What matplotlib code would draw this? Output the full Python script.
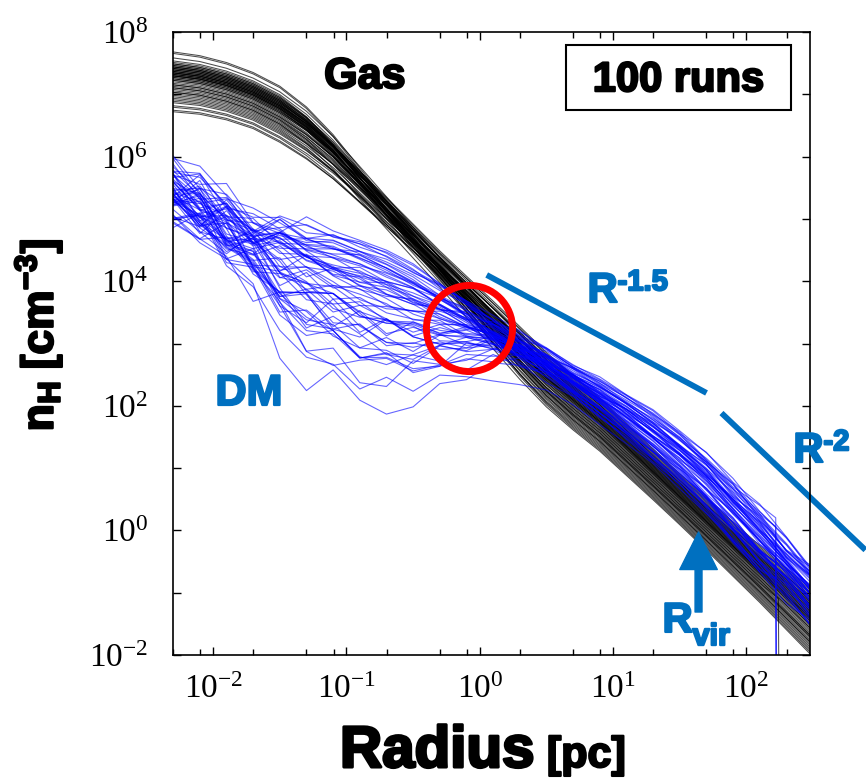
import numpy as np
import matplotlib
matplotlib.use('Agg')
import matplotlib.pyplot as plt
import matplotlib.patheffects as pe
from matplotlib.ticker import FuncFormatter, LogLocator, FixedLocator
from matplotlib.patches import Rectangle

plt.rcParams['font.family'] = ['Liberation Sans', 'DejaVu Sans']
plt.rcParams['mathtext.fontset'] = 'custom'
plt.rcParams['mathtext.rm'] = 'Liberation Serif'
plt.rcParams['mathtext.it'] = 'Liberation Serif:italic'
plt.rcParams['mathtext.bf'] = 'Liberation Sans:bold'

# radius grid, log10(r / pc)
log_r = [-2.3, -2.1, -1.9, -1.7, -1.5, -1.3, -1.1, -0.9, -0.7, -0.5, -0.3, -0.1,
         0.1, 0.3, 0.5, 0.7, 0.9, 1.1, 1.3, 1.5, 1.7, 1.9, 2.1, 2.3, 2.5]

# gas: middle of the band and half width of the band (log10 nH)
gas_mid = [7.20, 7.15, 7.05, 6.90, 6.68, 6.38, 6.00, 5.55, 5.10, 4.65, 4.20, 3.75,
           3.30, 2.85, 2.42, 2.05, 1.70, 1.30, 0.90, 0.50, 0.10, -0.30, -0.70, -1.10, -1.50]
gas_half = [0.48, 0.47, 0.46, 0.45, 0.45, 0.45, 0.45, 0.45, 0.44, 0.42, 0.40, 0.42,
            0.45, 0.47, 0.47, 0.46, 0.45, 0.44, 0.43, 0.43, 0.44, 0.46, 0.48, 0.52, 0.56]
gas_w = [1, 1, 1, 1, 1, 0.95, 0.85, 0.72, 0.6, 0.48, 0.36, 0.25,
         0.16, 0.08, 0.03, 0, 0, 0, 0, 0, 0, 0, 0, 0, 0]

# DM: middle, half width, weights of centre / core / outer offsets, noise levels
dm_mid = [5.35, 5.15, 4.85, 4.55, 4.35, 4.15, 4.00, 3.85, 3.70, 3.55, 3.42, 3.28,
          3.12, 2.92, 2.68, 2.40, 2.12, 1.82, 1.50, 1.15, 0.75, 0.30, -0.15, -0.60, -1.05]
dm_half = [0.40, 0.42, 0.50, 0.60, 0.70, 0.80, 0.85, 0.88, 0.85, 0.80, 0.72, 0.62,
           0.50, 0.42, 0.38, 0.38, 0.40, 0.42, 0.45, 0.48, 0.52, 0.55, 0.55, 0.50, 0.50]
dm_w_edge = [1, 0.8, 0.55, 0.3, 0.1, 0, 0, 0, 0, 0, 0, 0,
             0, 0, 0, 0, 0, 0, 0, 0, 0, 0, 0, 0, 0]
dm_w_core = [0, 0.2, 0.45, 0.7, 0.9, 1, 1, 1, 1, 0.95, 0.85, 0.72,
             0.55, 0.4, 0.28, 0.18, 0.1, 0.04, 0, 0, 0, 0, 0, 0, 0]
dm_noise_all = [0.34, 0.36, 0.34, 0.28, 0.20, 0.13, 0.08, 0.05, 0.03, 0.03, 0.03, 0.03,
                0.03, 0.03, 0.03, 0.03, 0.03, 0.03, 0.04, 0.05, 0.06, 0.08, 0.09, 0.10, 0.10]
dm_noise_low = [0, 0, 0.10, 0.20, 0.30, 0.35, 0.35, 0.35, 0.32, 0.30, 0.25, 0.20,
                0.15, 0.10, 0.05, 0.02, 0, 0, 0, 0, 0, 0, 0, 0, 0]

# per-run position inside the band
gas_in = [0.35, -0.2, 0.5, -0.6, 0.15, 0.4, -0.35, 0.25, 0.05, 0.6, -0.85, 0.3, 0.45, -0.1, 0.2,
          -0.5, 0.55, 0.1, 0.35, -0.95, 0.45, -0.25, 0.2, 0.7, -0.4, 0.3, 0.0, 0.5, -0.7, 0.25,
          0.4, -0.15, 0.95, -0.3, 0.3, -0.55, 0.1, 0.65, -0.05, 0.35, -0.8, 0.2, 0.5, -0.45, 0.15,
          0.8, -0.2, 0.4, -0.65, 0.3, 0.05, -0.35, 0.55, 0.25, 0.45, -0.1, 0.6, 0.2, 1.0, -1.0]
gas_out = [0.3, 0.6, -0.4, 0.1, -0.8, 0.45, 0.2, -0.55, 0.7, -0.1, 0.0, 0.85, -0.3, 0.5, -0.65,
           0.25, -0.2, 0.9, -0.45, 0.15, -0.9, 0.35, 0.65, -0.05, 0.4, -0.7, 0.1, -0.35, 0.55, 0.75,
           -0.15, 0.05, -0.6, 0.3, 0.95, -0.25, 0.5, -0.85, 0.2, -0.5, 0.6, -0.1, 0.0, 0.8, -0.4,
           0.25, -0.75, 0.45, 0.1, -0.3, 0.7, -0.95, 0.35, -0.2, 0.15, 0.55, -0.6, 0.05, -0.45, 0.4]
dm_edge = [0.2, -0.5, 0.9, 0.0, 1.2, -0.3, 0.5, -0.8, 0.3, 0.7, -0.1, 0.4, -0.6, 1.0, 0.1,
           -0.4, 0.6, -0.9, 0.25, 0.8, -0.2, 0.45, 0.05, -0.7, 0.35, 1.4, -0.15, 0.55, -0.5, 0.15,
           0.75, -0.35, 0.0, 0.6, -0.65, 0.3, 1.1, -0.25, 0.5, -0.05, 0.85, -0.45, 0.2, 0.65, -0.75,
           0.1, 0.4, -0.3, 0.95, -0.1, 0.3, -0.55, 0.7, 0.05, -0.2, 0.5, -0.85, 0.25, 0.6, -0.4]
dm_core = [0.8, 0.3, -0.5, 0.6, -1.2, 0.1, -0.45, -0.6, 0.9, 0.2, -0.4, 0.7, -1.5, 0.35, -0.3,
           0.55, -0.8, 0.25, -0.65, -0.1, 0.4, -1.0, 0.15, 0.75, -0.3, 0.5, -0.55, -0.7, 0.85, 0.3,
           -0.5, 0.6, -1.3, 0.2, -0.85, -0.15, 0.7, 0.1, -0.9, 0.55, -1.15, -0.25, 0.95, -0.45, 0.25,
           0.5, -1.1, 0.0, 0.65, -0.75, -0.6, 0.15, 0.8, -0.35, 0.3, -2.0, 0.6, -1.4, -0.05, 0.45]
dm_out = [0.2, -0.5, 0.6, 0.0, -0.3, 0.8, -0.8, 0.35, -0.1, 0.5, -0.6, 0.15, -1.0, 0.7, 0.3,
          -0.25, 0.45, -0.7, 0.1, 0.9, -0.4, 0.25, -0.15, 0.55, 0.05, -0.9, 0.4, 0.65, -0.35, -0.05,
          0.75, -0.55, 0.2, -0.2, 0.5, 0.0, -0.75, 0.3, 0.6, -0.45, 0.1, 0.85, -0.3, 0.35, -0.65,
          0.15, 0.45, -0.1, -0.85, 0.7, 0.25, -0.4, 0.05, 0.55, -0.2, 0.4, -0.6, 0.95, 0.1, -0.3]
jitter = [0.6, -0.9, 0.2, 0.8, -0.4, -0.1, 0.95, -0.7, 0.3, -0.5, 0.7, 0.0, -0.85, 0.45, -0.2,
          0.9, -0.6, 0.1, 0.5, -1.0, 0.35, -0.3, 0.75, -0.45, 0.15, -0.8, 0.65, -0.05, 0.4, -0.65,
          0.85, -0.25, 0.05, -0.95, 0.55, -0.15, 0.25]
dm_drop_runs = [4, 27, 41]   # runs that end with a sharp drop near 170 pc
gas_drop_runs = [12]

blue = '#0070C0'

fig = plt.figure(figsize=(8.66, 7.8), dpi=100)
ax = fig.add_axes([173 / 866, 1 - 655 / 780, (810 - 173) / 866, (655 - 32) / 780])

r = 10 ** np.array(log_r)
w = np.array(gas_w)
for i in range(len(gas_in)):
    y = np.array(gas_mid) + np.array(gas_half) * (gas_in[i] * w + gas_out[i] * (1 - w))
    rr = r
    if i in gas_drop_runs:
        rr = np.append(r[:23], [10 ** 2.24, 10 ** 2.245])
        y = np.append(y[:23], [y[22] - 0.25, -3])
    ax.plot(rr, 10 ** y, color='black', lw=0.75, alpha=0.7)

we = np.array(dm_w_edge)
wc = np.array(dm_w_core)
wo = 1 - we - wc
n = len(jitter)
for i in range(len(dm_core)):
    noise = np.array([jitter[(i * 11 + j * 5) % n] for j in range(len(log_r))])
    low = min(0.6, max(0.0, 0.5 * (0.5 - dm_core[i])))
    y = (np.array(dm_mid)
         + np.array(dm_half) * (dm_edge[i] * we + dm_core[i] * wc + dm_out[i] * wo)
         + (np.array(dm_noise_all) + np.array(dm_noise_low) * low) * noise)
    rr = r
    if i in dm_drop_runs:
        rr = np.append(r[:23], [10 ** 2.22, 10 ** 2.225])
        y = np.append(y[:23], [y[22] - 0.2, -3])
    ax.plot(rr, 10 ** y, color='#0000FF', lw=0.8, alpha=0.6)

ax.set_xscale('log')
ax.set_yscale('log')
ax.set_xlim(5e-3, 300)
ax.set_ylim(1e-2, 1e8)

ax.xaxis.set_major_locator(FixedLocator([1e-2, 1e-1, 1e0, 1e1, 1e2]))
ax.xaxis.set_minor_locator(LogLocator(base=10, subs=(2, 5, 8)))
ax.yaxis.set_major_locator(FixedLocator([10.0 ** k for k in range(-2, 9)]))
ax.yaxis.set_minor_locator(FixedLocator([]))
ax.xaxis.set_major_formatter(FuncFormatter(lambda v, p: r'$10^{%d}$' % round(np.log10(v))))
ax.yaxis.set_major_formatter(FuncFormatter(
    lambda v, p: r'$10^{%d}$' % round(np.log10(v)) if round(np.log10(v)) % 2 == 0 else ''))
ax.tick_params(which='both', direction='in', top=True, right=True, width=1)
ax.tick_params(which='major', length=6)
ax.tick_params(which='minor', length=4)
ax.tick_params(axis='x', labelsize=24, pad=14)
ax.tick_params(axis='y', labelsize=24, pad=18)
for s in ax.spines.values():
    s.set_linewidth(1.2)

heavy_k = [pe.withStroke(linewidth=1.6, foreground='black')]
heavy_b = [pe.withStroke(linewidth=1.6, foreground=blue)]

# annotations
ax.text(10 ** -0.863, 10 ** 7.10, 'Gas', fontsize=31, fontweight='bold', ha='center',
        va='baseline', path_effects=heavy_k)
ax.add_patch(Rectangle((0.617, 0.875), 0.353, 0.104, transform=ax.transAxes,
                       fc='white', ec='black', lw=1.5, zorder=5))
ax.text(0.7936, 0.905, '100 runs', transform=ax.transAxes, fontsize=30, fontweight='bold',
        ha='center', va='baseline', zorder=6, path_effects=heavy_k)
ax.text(10 ** -1.732, 10 ** 2.013, 'DM', fontsize=31, fontweight='bold', color=blue,
        ha='center', va='baseline', path_effects=heavy_b)

ax.plot([10 ** 0.052, 10 ** 1.701], [10 ** 4.10, 10 ** 2.206], color=blue, lw=4.2,
        solid_capstyle='butt', clip_on=False)
ax.plot([10 ** 1.813, 10 ** 2.893], [10 ** 1.884, 10 ** -0.315], color=blue, lw=4.2,
        solid_capstyle='butt', clip_on=False)

t1 = ax.text(10 ** 0.809, 10 ** 3.666, 'R', fontsize=30, fontweight='bold', color=blue,
             ha='left', va='baseline', path_effects=heavy_b)
ax.annotate('-1.5', xy=(1, 1), xycoords=t1, xytext=(0, 2), textcoords='offset points',
            fontsize=21, fontweight='bold', color=blue, ha='left', va='top', path_effects=heavy_b)
t2 = ax.text(10 ** 2.353, 10 ** 1.098, 'R', fontsize=30, fontweight='bold', color=blue,
             ha='left', va='baseline', path_effects=heavy_b)
ax.annotate('-2', xy=(1, 1), xycoords=t2, xytext=(0, 2), textcoords='offset points',
            fontsize=21, fontweight='bold', color=blue, ha='left', va='top', path_effects=heavy_b)

ax.plot([10 ** -0.078], [10 ** 3.244], marker='o', markersize=62, mfc='none', mec='red', mew=5)

ax.annotate('', xy=(10 ** 1.641, 10 ** -0.026), xytext=(10 ** 1.641, 10 ** -1.31),
            arrowprops=dict(width=5, headwidth=27, headlength=27, color=blue, shrink=0))
t3 = ax.text(10 ** 1.371, 10 ** -1.63, 'R', fontsize=30, fontweight='bold', color=blue,
             ha='left', va='baseline', path_effects=heavy_b)
ax.annotate('vir', xy=(1, 0), xycoords=t3, xytext=(0, -8), textcoords='offset points',
            fontsize=22, fontweight='bold', color=blue, ha='left', va='bottom', path_effects=heavy_b)

# axis labels
fig.text(38 / 866, 1 - 335 / 780, r'$\mathbf{n_H\ [cm^{-3}]}$', fontsize=32, rotation=90,
         ha='center', va='center', path_effects=heavy_k)
base_y = 1 - 767 / 780
tx = fig.text(340 / 866, base_y, 'Radius', fontsize=42, fontweight='bold',
              ha='left', va='baseline', path_effects=[pe.withStroke(linewidth=2.2, foreground='black')])
fig.canvas.draw()
bb = tx.get_window_extent()
fig.text((bb.x1 + 12) / 866, base_y, '[pc]', fontsize=31, fontweight='bold',
         ha='left', va='baseline', path_effects=heavy_k)

fig.savefig('out.png', dpi=100)
